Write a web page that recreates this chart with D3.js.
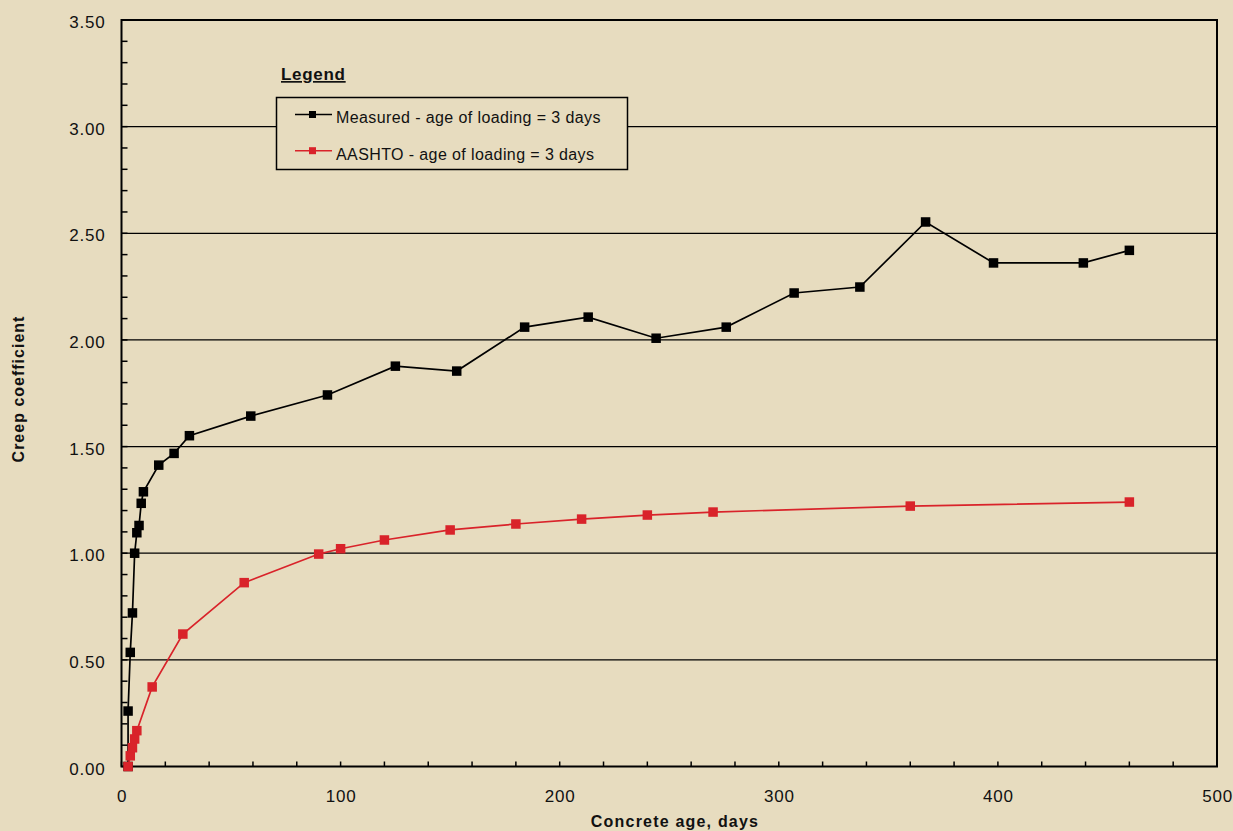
<!DOCTYPE html>
<html>
<head>
<meta charset="utf-8">
<script src="https://cdn.jsdelivr.net/npm/d3@7"></script>
<style>
  html, body { margin: 0; padding: 0; background: #e7dcbf; }
  svg { display: block; }
  text { font-family: "Liberation Sans", Arial, Helvetica, sans-serif; fill: #111; }
</style>
</head>
<body>
<svg id="chart" width="1233" height="831"></svg>
<script>
// Measured creep coefficient vs concrete age (loaded at 3 days)
const measuredAge = [3, 3, 4, 5, 6, 7, 8, 9, 10, 17, 24, 31, 59, 94, 125, 153, 184, 213, 244, 276, 307, 337, 367, 398, 439, 460];
const measuredCreep = [0, 0.26, 0.535, 0.72, 1.00, 1.096, 1.13, 1.234, 1.288, 1.413, 1.468, 1.551, 1.643, 1.742, 1.877, 1.854, 2.06, 2.107, 2.008, 2.06, 2.22, 2.248, 2.553, 2.361, 2.361, 2.42];

// AASHTO predicted creep coefficient
const aashtoAge = [3, 4, 5, 6, 7, 14, 28, 56, 90, 100, 120, 150, 180, 210, 240, 270, 360, 460];
const aashtoCreep = [0, 0.05, 0.088, 0.129, 0.168, 0.373, 0.621, 0.862, 0.996, 1.021, 1.062, 1.109, 1.137, 1.16, 1.179, 1.193, 1.221, 1.24];

const xTicks = [0, 100, 200, 300, 400, 500];
const yTicks = [0, 0.5, 1.0, 1.5, 2.0, 2.5, 3.0, 3.5];

const seriesNames = ["Measured - age of loading = 3 days", "AASHTO - age of loading = 3 days"];
const seriesColors = ["#000000", "#d9232a"];

const svg = d3.select("#chart");
const plotL = 121.5, plotR = 1217, plotT = 20, plotB = 766.5;

const x = d3.scaleLinear().domain([0, 500]).range([plotL, plotR]);
const y = d3.scaleLinear().domain([0, 3.5]).range([plotB, plotT]);

// Horizontal gridlines
svg.append("g")
  .selectAll("line")
  .data(yTicks.filter(v => v > 0 && v < 3.5))
  .join("line")
  .attr("x1", plotL).attr("x2", plotR)
  .attr("y1", d => y(d)).attr("y2", d => y(d))
  .attr("stroke", "#000").attr("stroke-width", 1.3);

// Minor ticks (inside the frame)
svg.append("g")
  .selectAll("line")
  .data(d3.range(0, 3.5001, 0.1))
  .join("line")
  .attr("x1", plotL).attr("x2", plotL + 6)
  .attr("y1", d => y(d)).attr("y2", d => y(d))
  .attr("stroke", "#000").attr("stroke-width", 1.5);

svg.append("g")
  .selectAll("line")
  .data(d3.range(0, 500.001, 20))
  .join("line")
  .attr("x1", d => x(d)).attr("x2", d => x(d))
  .attr("y1", plotB).attr("y2", plotB - 5)
  .attr("stroke", "#000").attr("stroke-width", 1.5);

// Plot frame
svg.append("rect")
  .attr("x", plotL).attr("y", plotT)
  .attr("width", plotR - plotL).attr("height", plotB - plotT)
  .attr("fill", "none").attr("stroke", "#000").attr("stroke-width", 2);

// Tick labels via axis generators (lines hidden)
const xAxis = svg.append("g")
  .attr("transform", `translate(0,${plotB})`)
  .call(d3.axisBottom(x).tickValues(xTicks).tickFormat(d3.format("d")).tickSize(0).tickPadding(23));
const yAxis = svg.append("g")
  .attr("transform", `translate(${plotL},0)`)
  .call(d3.axisLeft(y).tickValues(yTicks).tickFormat(d3.format(".2f")).tickSize(0).tickPadding(16));
[xAxis, yAxis].forEach(a => {
  a.select(".domain").remove();
  a.selectAll("text")
    .attr("font-size", 17)
    .attr("letter-spacing", "0.8px")
    .attr("font-family", "Liberation Sans, Arial, sans-serif")
    .attr("fill", "#111");
});
yAxis.selectAll("text").attr("dy", "0.45em");

// Axis titles
svg.append("text")
  .attr("x", 675).attr("y", 827)
  .attr("text-anchor", "middle").attr("font-size", 16).attr("font-weight", "bold")
  .attr("letter-spacing", "1.2px")
  .text("Concrete age, days");
svg.append("text")
  .attr("transform", "translate(24,389) rotate(-90)")
  .attr("text-anchor", "middle").attr("font-size", 16).attr("font-weight", "bold")
  .attr("letter-spacing", "1px")
  .text("Creep coefficient");

// Series
const series = [
  { name: seriesNames[0], color: seriesColors[0], data: measuredAge.map((a, i) => [a, measuredCreep[i]]) },
  { name: seriesNames[1], color: seriesColors[1], data: aashtoAge.map((a, i) => [a, aashtoCreep[i]]) }
];

const line = d3.line().x(d => x(d[0])).y(d => y(d[1]));
const m = 9.5;
series.forEach(s => {
  const g = svg.append("g");
  g.append("path")
    .attr("d", line(s.data))
    .attr("fill", "none").attr("stroke", s.color).attr("stroke-width", 1.7);
  g.selectAll("rect")
    .data(s.data)
    .join("rect")
    .attr("x", d => x(d[0]) - m / 2).attr("y", d => y(d[1]) - m / 2)
    .attr("width", m).attr("height", m)
    .attr("fill", s.color);
});

// Legend
svg.append("text")
  .attr("x", 281).attr("y", 80)
  .attr("font-size", 17).attr("font-weight", "bold")
  .attr("letter-spacing", "0.7px")
  .attr("text-decoration", "underline")
  .text("Legend");

const lg = svg.append("g");
lg.append("rect")
  .attr("x", 276.5).attr("y", 97.5).attr("width", 351).attr("height", 72)
  .attr("fill", "#e7dcbf").attr("stroke", "#000").attr("stroke-width", 1.5);
series.forEach((s, i) => {
  const cy = 114.5 + i * 36.2;
  lg.append("line")
    .attr("x1", 295).attr("x2", 332).attr("y1", cy).attr("y2", cy)
    .attr("stroke", s.color).attr("stroke-width", 1.6);
  lg.append("rect")
    .attr("x", 312.5 - 3.5).attr("y", cy - 3.5).attr("width", 7).attr("height", 7)
    .attr("fill", s.color);
  lg.append("text")
    .attr("x", 336).attr("y", cy + 8.8)
    .attr("font-size", 16)
    .attr("letter-spacing", "0.4px")
    .text(s.name);
});
</script>
</body>
</html>
